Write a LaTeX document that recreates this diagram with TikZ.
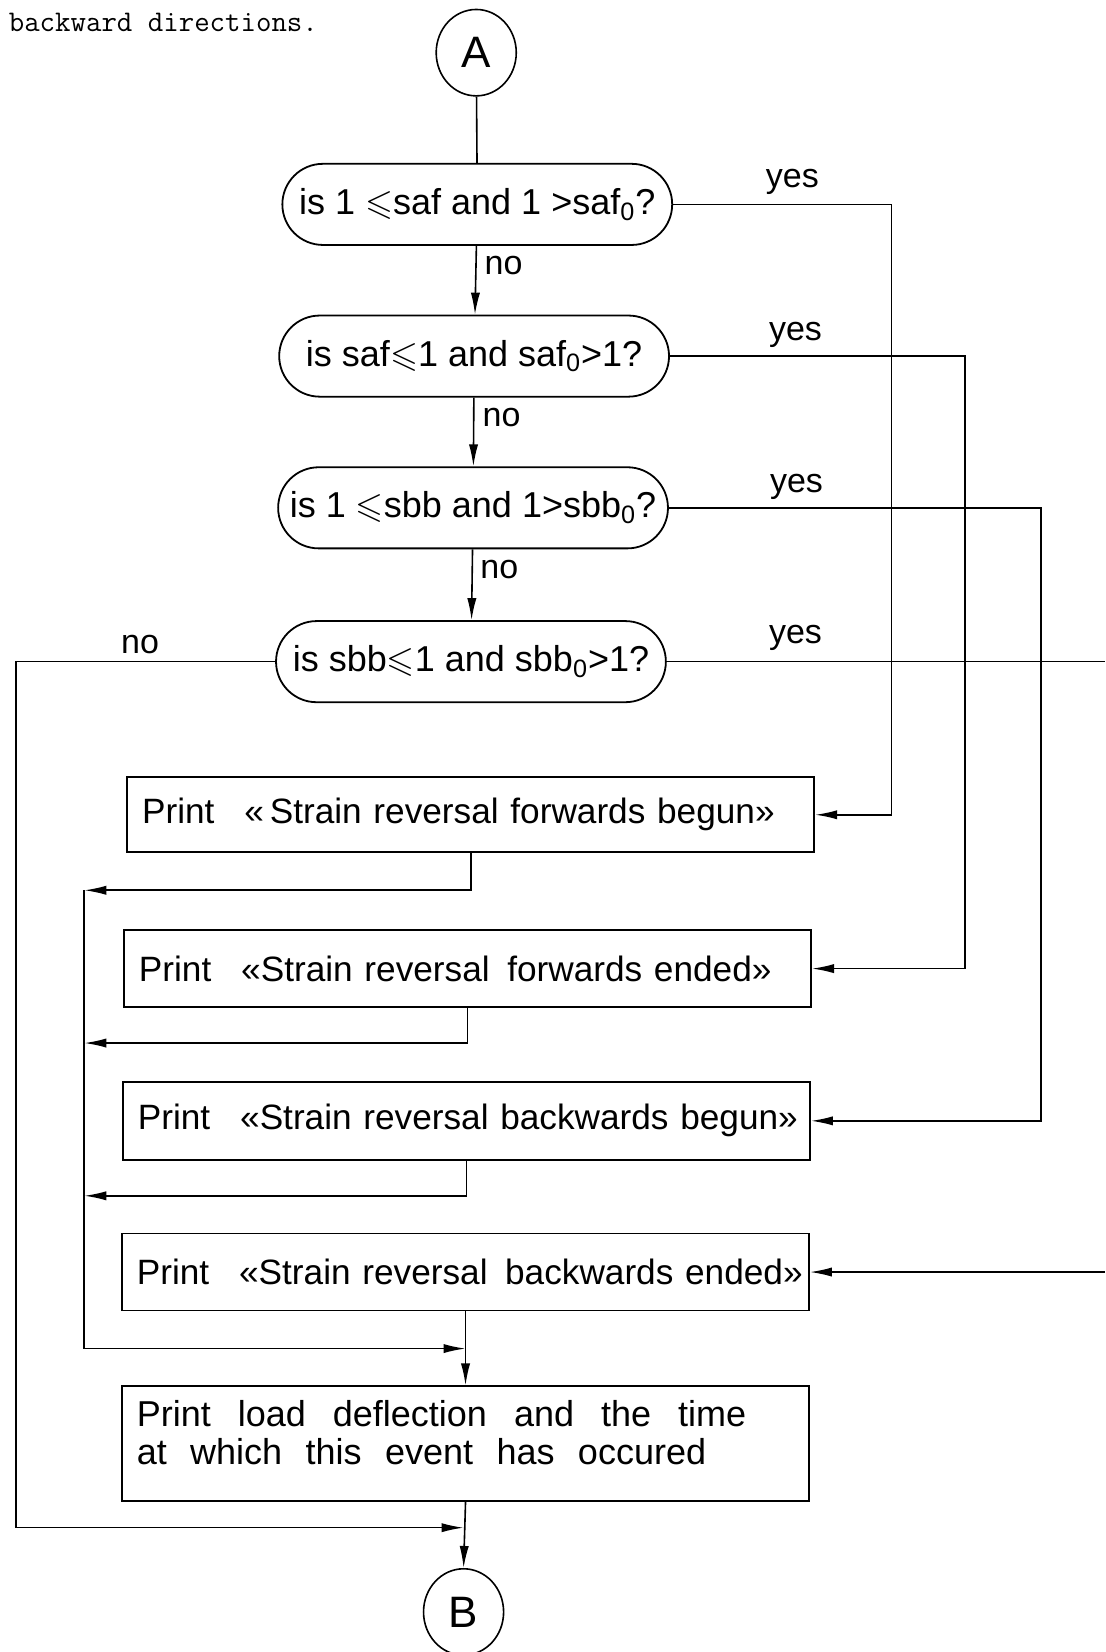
\documentclass[tikz,border=0pt]{standalone}
\usepackage{amssymb}
\usepackage{fontspec}
\setmainfont{Liberation Sans}
\usetikzlibrary{shapes.misc,shapes.geometric,arrows.meta}
\def\pu{0.5267pt}
\tikzset{
  ln/.style={line width=0.8pt},
  arr/.style={ln,-{Latex[length=11pt,width=4.6pt]}},
  conn/.style={draw,ln,ellipse,minimum width=76*\pu,minimum height=82*\pu,inner sep=0pt,font=\fontsize{22}{24}\selectfont},
  decision/.style={draw,line width=0.9pt,rounded rectangle,minimum width=370*\pu,minimum height=77*\pu,inner sep=0pt,font=\fontsize{18}{21}\selectfont},
  pbox/.style={draw,line width=0.9pt,rectangle,anchor=north west,align=left,text width=624*\pu,inner xsep=14*\pu,inner ysep=0pt,font=\fontsize{17.6}{20}\selectfont},
  lbl/.style={font=\fontsize{17}{20}\selectfont,inner sep=0pt},
}
\begin{document}
\begin{tikzpicture}[x=0.5267pt,y=-0.5267pt]
\useasboundingbox (0,0) rectangle (1049,1568);
\node[anchor=base west,inner sep=0pt,font=\fontsize{15}{18}\ttfamily] (hdr) at (8,30) {backward directions.};

\node[conn] (A) at (452,50) {A};
\node[decision] (D1) at (453,194) {is 1 $\leqslant$saf and 1 >saf\textsubscript{0}?};
\node[decision] (D2) at (450,338) {is saf$\leqslant$1 and saf\textsubscript{0}>1?};
\node[decision] (D3) at (449,482) {is 1 $\leqslant$sbb and 1>sbb\textsubscript{0}?};
\node[decision] (D4) at (447,628) {is sbb$\leqslant$1 and sbb\textsubscript{0}>1?};

\node[pbox,minimum height=71*\pu] (B1) at (120,737) {\mbox{Print\hspace{0.85em}«\,Strain reversal forwards begun»}};
\node[pbox,minimum height=73*\pu] (B2) at (117,882) {\mbox{Print\hspace{0.85em}«Strain reversal\hspace{0.5em}forwards ended»}};
\node[pbox,minimum height=74*\pu] (B3) at (116,1026) {\mbox{Print\hspace{0.85em}«Strain reversal backwards begun»}};
\node[pbox,minimum height=73*\pu] (B4) at (115,1170) {\mbox{Print\hspace{0.85em}«Strain reversal\hspace{0.5em}backwards ended»}};
\node[pbox,minimum height=109*\pu,font=\fontsize{18}{20}\selectfont] (B5) at (115,1315) {Print\hspace{0.75em}load\hspace{0.75em}deflection\hspace{0.75em}and\hspace{0.75em}the\hspace{0.75em}time\\[-1pt]at\hspace{0.65em}which\hspace{0.65em}this\hspace{0.65em}event\hspace{0.65em}has\hspace{0.65em}occured\\[-9pt]\mbox{}};

\node[conn] (Bc) at (440,1530) {B};

% coordinates
\coordinate (r1) at (846,0);
\coordinate (r2) at (916,0);
\coordinate (r3) at (988,0);
\coordinate (edge) at (1049,0);
\coordinate (lft) at (15,0);
\coordinate (c1) at (80,845);
\coordinate (c2) at (80,990);
\coordinate (c3) at (80,1135);
\coordinate (c4) at (80,1280);
\coordinate (m2) at (440,1450);

% main spine
\draw[ln] (A) -- (D1);
\draw[arr] (D1) -- (D2);
\draw[arr] (D2) -- (D3);
\draw[arr] (D3) -- (D4);

% yes branches
\draw[arr] (D1.east) -| (r1 |- B1.east) -- (B1.east);
\draw[arr] (D2.east) -| (r2 |- B2.east) -- (B2.east);
\draw[arr] (D3.east) -| (r3 |- B3.east) -- (B3.east);
\draw[ln] (D4.east) -- (D4.east -| edge);
\draw[arr] (B4.east -| edge) -- (B4.east);

% labels
\node[lbl] (y1) at (752,173) {yes};
\node[lbl] (y2) at (755,318) {yes};
\node[lbl] (y3) at (756,462) {yes};
\node[lbl] (y4) at (755,605) {yes};
\node[lbl] (n1) at (478,252) {no};
\node[lbl] (n2) at (476,396) {no};
\node[lbl] (n3) at (474,541) {no};
\node[lbl] (n4) at (133,612) {no};

% collector
\draw[arr] (B1.south) |- (c1);
\draw[arr] (B2.south) |- (c2);
\draw[arr] (B3.south) |- (c3);
\draw[ln] (c1) -- (c4);
\draw[arr] (c4) -- (c4 -| B4.south);
\draw[arr] (B4.south) -- (B5.north);

% no branch of D4
\draw[arr] (D4.west) -| (lft |- m2) -- (m2);
\draw[arr] (B5.south) -- (Bc.north);
\end{tikzpicture}
\end{document}
